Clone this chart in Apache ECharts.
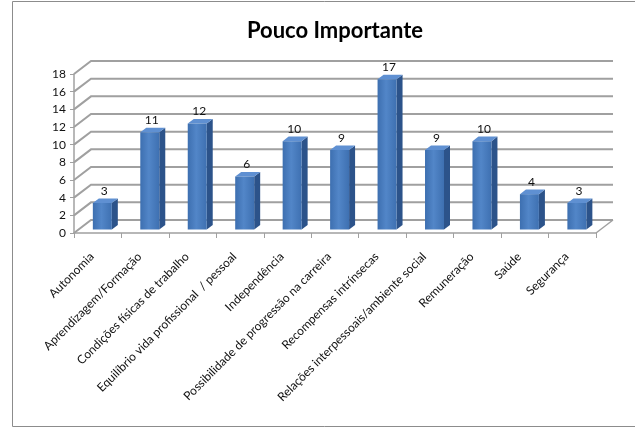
<!DOCTYPE html>
<html>
<head>
<meta charset="utf-8">
<script src="https://cdn.jsdelivr.net/npm/echarts@6/dist/echarts.min.js"></script>
<style>
  html, body { margin: 0; padding: 0; background: #fff; }
  #chart { width: 635px; height: 429px; }
</style>
</head>
<body>
<div id="chart"></div>
<script>
const categories = [
  "Autonomia",
  "Aprendizagem/Formação",
  "Condições físicas de trabalho",
  "Equilíbrio vida profissional  / pessoal",
  "Independência",
  "Possibilidade de progressão na carreira",
  "Recompensas intrínsecas",
  "Relações interpessoais/ambiente social",
  "Remuneração",
  "Saúde",
  "Segurança"
];
const values = [3, 11, 12, 6, 10, 9, 17, 9, 10, 4, 3];
const yTicks = [0, 2, 4, 6, 8, 10, 12, 14, 16, 18];

// profundidade do "3D"
const depth = [17, -13];
const barOff = [4.6, -3.5];
const barDepth = [6, -4.6];

let chart = echarts.init(document.getElementById("chart"));

function renderWall(params, api) {
  let cs = params.coordSys;
  let v = api.value(0);
  let y = api.coord([0, v])[1];
  let l = cs.x, r = cs.x + cs.width;
  let children = [{
    type: "polyline",
    shape: { points: [[l, y], [l + depth[0], y + depth[1]], [r + depth[0], y + depth[1]]] },
    style: { stroke: "#a0a0a0", lineWidth: 2, fill: null }
  }];
  if (v === 0) {
    children.push({
      type: "line",
      shape: { x1: r, y1: y, x2: r + depth[0], y2: y + depth[1] },
      style: { stroke: "#a0a0a0", lineWidth: 1.5 }
    });
  }
  return { type: "group", children };
}

function renderBar(params, api) {
  let idx = api.value(0);
  let v = api.value(1);
  let top = api.coord([idx, v]);
  let bottom = api.coord([idx, 0]);
  let w = api.size([1, 0])[0] * 0.4;
  let x0 = top[0] - w / 2 + barOff[0];
  let x1 = x0 + w;
  let yt = top[1] + barOff[1];
  let yb = bottom[1] + barOff[1];
  let dx = barDepth[0], dy = barDepth[1];
  return {
    type: "group",
    children: [
      {
        type: "polygon",
        shape: { points: [[x1, yt], [x1 + dx, yt + dy], [x1 + dx, yb + dy], [x1, yb]] },
        style: { fill: "#2c538a" }
      },
      {
        type: "polygon",
        shape: { points: [[x0, yt], [x0 + dx, yt + dy], [x1 + dx, yt + dy], [x1, yt]] },
        style: { fill: "#5f90d2" }
      },
      {
        type: "rect",
        shape: { x: x0, y: yt, width: w, height: yb - yt },
        style: {
          fill: new echarts.graphic.LinearGradient(0, 0, 1, 0, [
            { offset: 0, color: "#3d6fb0" },
            { offset: 0.45, color: "#5286c8" },
            { offset: 1, color: "#3e70b1" }
          ])
        }
      },
      {
        type: "text",
        style: {
          text: String(v),
          x: (x0 + x1) / 2 + 2,
          y: yt - 6,
          align: "center",
          verticalAlign: "bottom",
          font: "12px Lato",
          fill: "#111"
        }
      }
    ]
  };
}

let option = {
  animation: false,
  title: {
    text: "Pouco Importante",
    left: 330,
    top: 15,
    textAlign: "center",
    textStyle: { fontFamily: "Lato", fontSize: 22, fontWeight: "bold", color: "#000" }
  },
  graphic: [{
    type: "rect",
    shape: { x: 12.5, y: 1.5, width: 640, height: 425 },
    style: { fill: null, stroke: "#8c8c8c", lineWidth: 1 }
  }],
  grid: { left: 74, right: 39, top: 74, bottom: 196 },
  xAxis: {
    type: "category",
    data: categories,
    axisLine: { lineStyle: { color: "#a0a0a0", width: 1.5 } },
    axisTick: { show: true, length: 5, lineStyle: { color: "#a0a0a0" } },
    axisLabel: {
      interval: 0,
      rotate: 45,
      margin: 16,
      padding: [0, 8, 0, 0],
      fontFamily: "Lato",
      fontSize: 12,
      color: "#111"
    },
    z: 1
  },
  yAxis: {
    type: "value",
    min: 0,
    max: 18,
    interval: 2,
    axisLine: { show: true, lineStyle: { color: "#a0a0a0", width: 1.5 } },
    axisTick: { show: true, length: 4, lineStyle: { color: "#a0a0a0" } },
    axisLabel: { margin: 8, fontFamily: "Lato", fontSize: 12, color: "#111" },
    splitLine: { show: false }
  },
  series: [
    {
      type: "custom",
      renderItem: renderWall,
      data: yTicks.map((v) => [v]),
      encode: { y: 0 },
      silent: true,
      z: 1
    },
    {
      type: "custom",
      renderItem: renderBar,
      data: values.map((v, i) => [i, v]),
      encode: { x: 0, y: 1 },
      z: 3
    }
  ]
};
chart.setOption(option);
</script>
</body>
</html>
